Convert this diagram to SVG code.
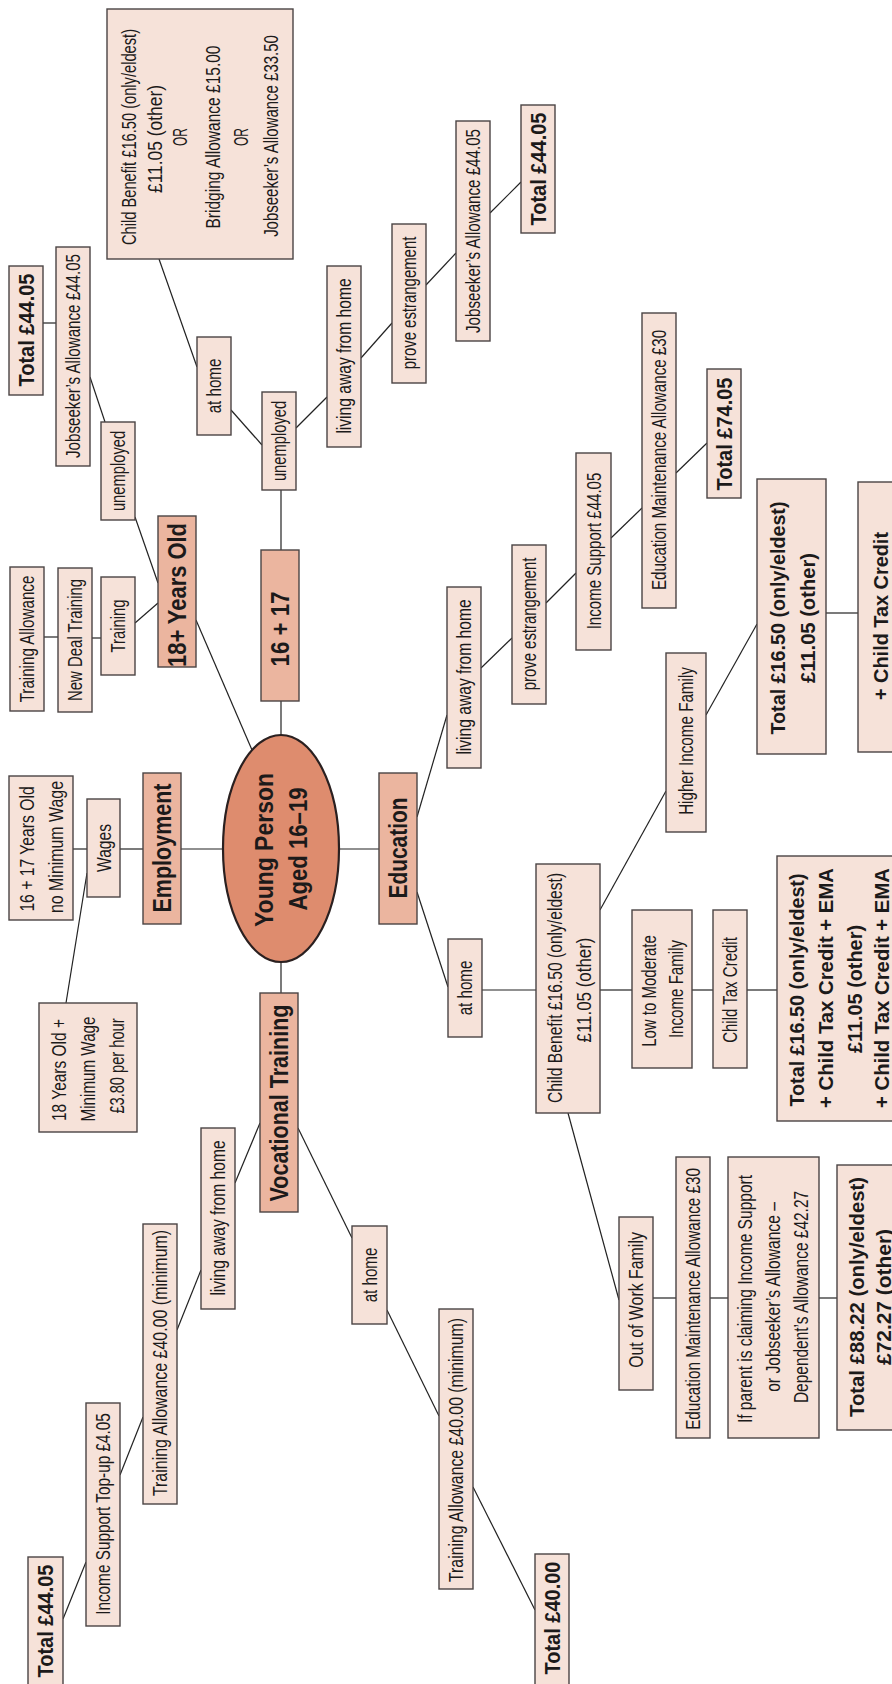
<svg xmlns="http://www.w3.org/2000/svg" width="892" height="1684" viewBox="0 0 892 1684">
<style>
.b{fill:#f6e2d9;stroke:#4a4444;stroke-width:1.4}
.c{fill:#ebb59f;stroke:#4a4444;stroke-width:1.4}
.e{fill:#de8c6e;stroke:#2a2020;stroke-width:2.2}
.ln{stroke:#222;stroke-width:1.2;fill:none}
text{font-family:"Liberation Sans",Arial,sans-serif;fill:#1c1a1a;text-anchor:middle}
.t{font-size:20px}
.tb{font-size:22px;font-weight:bold}
.tm{font-size:21px;font-weight:bold}
.tc{font-size:25px;font-weight:bold}
</style>
<rect width="892" height="1684" fill="#ffffff"/>
<g id="connectors">
<line class="ln" x1="159" y1="259" x2="197" y2="367"/>
<line class="ln" x1="231" y1="410" x2="262" y2="445"/>
<line class="ln" x1="296" y1="428" x2="327" y2="397"/>
<line class="ln" x1="361" y1="358" x2="392" y2="323"/>
<line class="ln" x1="426" y1="285" x2="456" y2="253"/>
<line class="ln" x1="490" y1="213" x2="521" y2="182"/>
<line class="ln" x1="43" y1="323" x2="56" y2="323"/>
<line class="ln" x1="90" y1="377" x2="105" y2="422"/>
<line class="ln" x1="135" y1="517" x2="158" y2="583"/>
<line class="ln" x1="135" y1="623" x2="158" y2="603"/>
<line class="ln" x1="92" y1="638" x2="101" y2="638"/>
<line class="ln" x1="44" y1="637" x2="58" y2="637"/>
<line class="ln" x1="281" y1="490" x2="281" y2="550"/>
<line class="ln" x1="281" y1="701" x2="281" y2="735"/>
<line class="ln" x1="196" y1="620" x2="252" y2="750"/>
<line class="ln" x1="73" y1="849" x2="87" y2="849"/>
<line class="ln" x1="120" y1="849" x2="143" y2="849"/>
<line class="ln" x1="181" y1="849" x2="223" y2="849"/>
<line class="ln" x1="87" y1="873" x2="66" y2="1003"/>
<line class="ln" x1="281" y1="962" x2="281" y2="993"/>
<line class="ln" x1="260" y1="1123" x2="235" y2="1183"/>
<line class="ln" x1="201" y1="1270" x2="177" y2="1330"/>
<line class="ln" x1="143" y1="1417" x2="120" y2="1475"/>
<line class="ln" x1="86" y1="1562" x2="63" y2="1619"/>
<line class="ln" x1="298" y1="1128" x2="352" y2="1238"/>
<line class="ln" x1="387" y1="1310" x2="439" y2="1416"/>
<line class="ln" x1="473" y1="1487" x2="535" y2="1610"/>
<line class="ln" x1="339" y1="849" x2="379" y2="849"/>
<line class="ln" x1="417" y1="817" x2="447" y2="715"/>
<line class="ln" x1="481" y1="668" x2="512" y2="638"/>
<line class="ln" x1="546" y1="603" x2="576" y2="573"/>
<line class="ln" x1="611" y1="538" x2="642" y2="508"/>
<line class="ln" x1="676" y1="473" x2="707" y2="443"/>
<line class="ln" x1="706" y1="715" x2="757" y2="624"/>
<line class="ln" x1="826" y1="613" x2="858" y2="613"/>
<line class="ln" x1="600" y1="910" x2="666" y2="791"/>
<line class="ln" x1="417" y1="892" x2="448" y2="987"/>
<line class="ln" x1="482" y1="990" x2="536" y2="990"/>
<line class="ln" x1="600" y1="990" x2="632" y2="990"/>
<line class="ln" x1="692" y1="990" x2="713" y2="990"/>
<line class="ln" x1="747" y1="990" x2="777" y2="990"/>
<line class="ln" x1="568" y1="1113" x2="619" y2="1300"/>
<line class="ln" x1="653" y1="1298" x2="676" y2="1298"/>
<line class="ln" x1="710" y1="1298" x2="728" y2="1298"/>
<line class="ln" x1="819" y1="1298" x2="837" y2="1298"/>
</g>

<g id="root">
<ellipse class="e" cx="281" cy="848.5" rx="58" ry="113.5"/>
<text class="tc" transform="translate(264,850) rotate(-90)" dy="0.35em" textLength="154" lengthAdjust="spacingAndGlyphs">Young Person</text>
<text class="tc" transform="translate(298,849) rotate(-90)" dy="0.35em" textLength="123" lengthAdjust="spacingAndGlyphs">Aged 16–19</text>
</g>

<g id="cat18plus"><rect class="c" x="158" y="516" width="38" height="151"/>
<text class="tc" transform="translate(177,595) rotate(-90)" dy="0.35em" textLength="144" lengthAdjust="spacingAndGlyphs">18+ Years Old</text></g>
<g id="cat1617"><rect class="c" x="261" y="550" width="38" height="151"/>
<text class="tc" transform="translate(280,629) rotate(-90)" dy="0.35em" textLength="75" lengthAdjust="spacingAndGlyphs">16 + 17</text></g>
<g id="employment"><rect class="c" x="143" y="773" width="38" height="151"/>
<text class="tc" transform="translate(162,848) rotate(-90)" dy="0.35em" textLength="129" lengthAdjust="spacingAndGlyphs">Employment</text></g>
<g id="education"><rect class="c" x="379" y="773" width="38" height="151"/>
<text class="tc" transform="translate(398,848) rotate(-90)" dy="0.35em" textLength="101" lengthAdjust="spacingAndGlyphs">Education</text></g>
<g id="vocational"><rect class="c" x="260" y="993" width="38" height="219"/>
<text class="tc" transform="translate(279,1103) rotate(-90)" dy="0.35em" textLength="197" lengthAdjust="spacingAndGlyphs">Vocational Training</text></g>

<g id="bigCB"><rect class="b" x="107" y="9" width="186" height="250"/>
<text class="t" transform="translate(129,137) rotate(-90) scale(0.75,1)" dy="0.35em" textLength="288" lengthAdjust="spacingAndGlyphs">Child Benefit £16.50 (only/eldest)</text>
<text class="t" transform="translate(155,139) rotate(-90) scale(0.75,1)" dy="0.35em" textLength="144" lengthAdjust="spacingAndGlyphs">£11.05 (other)</text>
<text class="t" transform="translate(180,137) rotate(-90) scale(0.75,1)" dy="0.35em" textLength="24" lengthAdjust="spacingAndGlyphs">OR</text>
<text class="t" transform="translate(213,137) rotate(-90) scale(0.75,1)" dy="0.35em" textLength="244" lengthAdjust="spacingAndGlyphs">Bridging Allowance £15.00</text>
<text class="t" transform="translate(241,137) rotate(-90) scale(0.75,1)" dy="0.35em" textLength="24" lengthAdjust="spacingAndGlyphs">OR</text>
<text class="t" transform="translate(271,136) rotate(-90) scale(0.75,1)" dy="0.35em" textLength="269" lengthAdjust="spacingAndGlyphs">Jobseeker’s Allowance £33.50</text></g>

<g id="totalTL"><rect class="b" x="9" y="266" width="34" height="129"/>
<text class="tb" transform="translate(26,330) rotate(-90)" dy="0.35em" textLength="113" lengthAdjust="spacingAndGlyphs">Total £44.05</text></g>
<g id="jsaTL"><rect class="b" x="56" y="247" width="34" height="219"/>
<text class="t" transform="translate(73,356) rotate(-90) scale(0.75,1)" dy="0.35em" textLength="272" lengthAdjust="spacingAndGlyphs">Jobseeker’s Allowance £44.05</text></g>
<g id="atHome1"><rect class="b" x="197" y="337" width="34" height="98"/>
<text class="t" transform="translate(214,386) rotate(-90) scale(0.75,1)" dy="0.35em" textLength="73" lengthAdjust="spacingAndGlyphs">at home</text></g>
<g id="unemp1617"><rect class="b" x="262" y="392" width="34" height="98"/>
<text class="t" transform="translate(279,441) rotate(-90) scale(0.75,1)" dy="0.35em" textLength="107" lengthAdjust="spacingAndGlyphs">unemployed</text></g>
<g id="living1617"><rect class="b" x="327" y="266" width="34" height="181"/>
<text class="t" transform="translate(344,356) rotate(-90) scale(0.75,1)" dy="0.35em" textLength="207" lengthAdjust="spacingAndGlyphs">living away from home</text></g>
<g id="prove1617"><rect class="b" x="392" y="224" width="34" height="159"/>
<text class="t" transform="translate(409,303) rotate(-90) scale(0.75,1)" dy="0.35em" textLength="177" lengthAdjust="spacingAndGlyphs">prove estrangement</text></g>
<g id="jsa1617"><rect class="b" x="456" y="121" width="34" height="220"/>
<text class="t" transform="translate(473,231) rotate(-90) scale(0.75,1)" dy="0.35em" textLength="272" lengthAdjust="spacingAndGlyphs">Jobseeker’s Allowance £44.05</text></g>
<g id="total1617"><rect class="b" x="521" y="105" width="34" height="128"/>
<text class="tb" transform="translate(538,169) rotate(-90)" dy="0.35em" textLength="113" lengthAdjust="spacingAndGlyphs">Total £44.05</text></g>

<g id="unemp18"><rect class="b" x="101" y="422" width="34" height="98"/>
<text class="t" transform="translate(118,471) rotate(-90) scale(0.75,1)" dy="0.35em" textLength="107" lengthAdjust="spacingAndGlyphs">unemployed</text></g>
<g id="training"><rect class="b" x="101" y="577" width="34" height="98"/>
<text class="t" transform="translate(118,626) rotate(-90) scale(0.75,1)" dy="0.35em" textLength="71" lengthAdjust="spacingAndGlyphs">Training</text></g>
<g id="newDeal"><rect class="b" x="58" y="568" width="34" height="144"/>
<text class="t" transform="translate(75,640) rotate(-90) scale(0.75,1)" dy="0.35em" textLength="163" lengthAdjust="spacingAndGlyphs">New Deal Training</text></g>
<g id="trainAllow"><rect class="b" x="10" y="567" width="34" height="144"/>
<text class="t" transform="translate(27,639) rotate(-90) scale(0.75,1)" dy="0.35em" textLength="169" lengthAdjust="spacingAndGlyphs">Training Allowance</text></g>

<g id="wages"><rect class="b" x="87" y="799" width="33" height="98"/>
<text class="t" transform="translate(103.5,848) rotate(-90) scale(0.75,1)" dy="0.35em" textLength="64" lengthAdjust="spacingAndGlyphs">Wages</text></g>
<g id="yo1617"><rect class="b" x="9" y="776" width="64" height="144"/>
<text class="t" transform="translate(27,849) rotate(-90) scale(0.75,1)" dy="0.35em" textLength="167" lengthAdjust="spacingAndGlyphs">16 + 17 Years Old</text>
<text class="t" transform="translate(56,847) rotate(-90) scale(0.75,1)" dy="0.35em" textLength="176" lengthAdjust="spacingAndGlyphs">no Minimum Wage</text></g>
<g id="yo18"><rect class="b" x="39" y="1003" width="98" height="129"/>
<text class="t" transform="translate(59,1070) rotate(-90) scale(0.75,1)" dy="0.35em" textLength="136" lengthAdjust="spacingAndGlyphs">18 Years Old +</text>
<text class="t" transform="translate(88,1069) rotate(-90) scale(0.75,1)" dy="0.35em" textLength="140" lengthAdjust="spacingAndGlyphs">Minimum Wage</text>
<text class="t" transform="translate(117,1066) rotate(-90) scale(0.75,1)" dy="0.35em" textLength="127" lengthAdjust="spacingAndGlyphs">£3.80 per hour</text></g>

<g id="livingVT"><rect class="b" x="201" y="1128" width="34" height="181"/>
<text class="t" transform="translate(218,1218) rotate(-90) scale(0.75,1)" dy="0.35em" textLength="207" lengthAdjust="spacingAndGlyphs">living away from home</text></g>
<g id="taUpper"><rect class="b" x="143" y="1224" width="34" height="280"/>
<text class="t" transform="translate(160,1363) rotate(-90) scale(0.75,1)" dy="0.35em" textLength="355" lengthAdjust="spacingAndGlyphs">Training Allowance £40.00 (minimum)</text></g>
<g id="isTopUp"><rect class="b" x="86" y="1403" width="34" height="223"/>
<text class="t" transform="translate(103,1514) rotate(-90) scale(0.75,1)" dy="0.35em" textLength="269" lengthAdjust="spacingAndGlyphs">Income Support Top-up £4.05</text></g>
<g id="totalBL"><rect class="b" x="28" y="1557" width="35" height="135"/>
<text class="tb" transform="translate(45.5,1621) rotate(-90)" dy="0.35em" textLength="113" lengthAdjust="spacingAndGlyphs">Total £44.05</text></g>
<g id="atHomeVT"><rect class="b" x="352" y="1226" width="35" height="98"/>
<text class="t" transform="translate(369.5,1275) rotate(-90) scale(0.75,1)" dy="0.35em" textLength="73" lengthAdjust="spacingAndGlyphs">at home</text></g>
<g id="taLower"><rect class="b" x="439" y="1309" width="34" height="280"/>
<text class="t" transform="translate(456,1450) rotate(-90) scale(0.75,1)" dy="0.35em" textLength="352" lengthAdjust="spacingAndGlyphs">Training Allowance £40.00 (minimum)</text></g>
<g id="total40"><rect class="b" x="535" y="1554" width="34" height="138"/>
<text class="tb" transform="translate(552,1618) rotate(-90)" dy="0.35em" textLength="113" lengthAdjust="spacingAndGlyphs">Total £40.00</text></g>

<g id="livingEdu"><rect class="b" x="447" y="587" width="34" height="181"/>
<text class="t" transform="translate(464,677) rotate(-90) scale(0.75,1)" dy="0.35em" textLength="207" lengthAdjust="spacingAndGlyphs">living away from home</text></g>
<g id="proveEdu"><rect class="b" x="512" y="545" width="34" height="159"/>
<text class="t" transform="translate(529,624) rotate(-90) scale(0.75,1)" dy="0.35em" textLength="177" lengthAdjust="spacingAndGlyphs">prove estrangement</text></g>
<g id="isEdu"><rect class="b" x="576" y="453" width="35" height="197"/>
<text class="t" transform="translate(593.5,551) rotate(-90) scale(0.75,1)" dy="0.35em" textLength="209" lengthAdjust="spacingAndGlyphs">Income Support £44.05</text></g>
<g id="emaTop"><rect class="b" x="642" y="313" width="34" height="295"/>
<text class="t" transform="translate(659,460) rotate(-90) scale(0.75,1)" dy="0.35em" textLength="347" lengthAdjust="spacingAndGlyphs">Education Maintenance Allowance £30</text></g>
<g id="total74"><rect class="b" x="707" y="369" width="34" height="129"/>
<text class="tb" transform="translate(724,434) rotate(-90)" dy="0.35em" textLength="113" lengthAdjust="spacingAndGlyphs">Total £74.05</text></g>
<g id="higher"><rect class="b" x="666" y="653" width="40" height="179"/>
<text class="t" transform="translate(686,741) rotate(-90) scale(0.75,1)" dy="0.35em" textLength="197" lengthAdjust="spacingAndGlyphs">Higher Income Family</text></g>
<g id="total1650"><rect class="b" x="757" y="479" width="69" height="275"/>
<text class="tm" transform="translate(778,618) rotate(-90)" dy="0.35em" textLength="233" lengthAdjust="spacingAndGlyphs">Total £16.50 (only/eldest)</text>
<text class="tm" transform="translate(808,618) rotate(-90)" dy="0.35em" textLength="130" lengthAdjust="spacingAndGlyphs">£11.05 (other)</text></g>
<g id="plusCTC"><rect class="b" x="858" y="482" width="50" height="270"/>
<text class="tm" transform="translate(881,616) rotate(-90)" dy="0.35em" textLength="168" lengthAdjust="spacingAndGlyphs">+ Child Tax Credit</text></g>

<g id="atHomeEdu"><rect class="b" x="448" y="939" width="34" height="98"/>
<text class="t" transform="translate(465,988) rotate(-90) scale(0.75,1)" dy="0.35em" textLength="73" lengthAdjust="spacingAndGlyphs">at home</text></g>
<g id="cbEdu"><rect class="b" x="536" y="864" width="64" height="249"/>
<text class="t" transform="translate(555,988) rotate(-90) scale(0.75,1)" dy="0.35em" textLength="307" lengthAdjust="spacingAndGlyphs">Child Benefit £16.50 (only/eldest)</text>
<text class="t" transform="translate(584,990) rotate(-90) scale(0.75,1)" dy="0.35em" textLength="140" lengthAdjust="spacingAndGlyphs">£11.05 (other)</text></g>
<g id="lowMod"><rect class="b" x="632" y="910" width="60" height="158"/>
<text class="t" transform="translate(649,991) rotate(-90) scale(0.75,1)" dy="0.35em" textLength="149" lengthAdjust="spacingAndGlyphs">Low to Moderate</text>
<text class="t" transform="translate(676,989) rotate(-90) scale(0.75,1)" dy="0.35em" textLength="131" lengthAdjust="spacingAndGlyphs">Income Family</text></g>
<g id="ctc"><rect class="b" x="713" y="910" width="34" height="158"/>
<text class="t" transform="translate(730,990) rotate(-90) scale(0.75,1)" dy="0.35em" textLength="141" lengthAdjust="spacingAndGlyphs">Child Tax Credit</text></g>
<g id="totalBig"><rect class="b" x="777" y="856" width="130" height="265"/>
<text class="tm" transform="translate(797,990) rotate(-90)" dy="0.35em" textLength="233" lengthAdjust="spacingAndGlyphs">Total £16.50 (only/eldest)</text>
<text class="tm" transform="translate(826,988) rotate(-90)" dy="0.35em" textLength="240" lengthAdjust="spacingAndGlyphs">+ Child Tax Credit + EMA</text>
<text class="tm" transform="translate(855,989) rotate(-90)" dy="0.35em" textLength="128" lengthAdjust="spacingAndGlyphs">£11.05 (other)</text>
<text class="tm" transform="translate(882,988) rotate(-90)" dy="0.35em" textLength="240" lengthAdjust="spacingAndGlyphs">+ Child Tax Credit + EMA</text></g>

<g id="outOfWork"><rect class="b" x="619" y="1217" width="34" height="173"/>
<text class="t" transform="translate(636,1300) rotate(-90) scale(0.75,1)" dy="0.35em" textLength="181" lengthAdjust="spacingAndGlyphs">Out of Work Family</text></g>
<g id="emaLow"><rect class="b" x="676" y="1157" width="34" height="281"/>
<text class="t" transform="translate(693,1299) rotate(-90) scale(0.75,1)" dy="0.35em" textLength="349" lengthAdjust="spacingAndGlyphs">Education Maintenance Allowance £30</text></g>
<g id="ifParent"><rect class="b" x="728" y="1157" width="91" height="281"/>
<text class="t" transform="translate(745,1299) rotate(-90) scale(0.75,1)" dy="0.35em" textLength="331" lengthAdjust="spacingAndGlyphs">If parent is claiming Income Support</text>
<text class="t" transform="translate(773,1297) rotate(-90) scale(0.75,1)" dy="0.35em" textLength="253" lengthAdjust="spacingAndGlyphs">or Jobseeker’s Allowance –</text>
<text class="t" transform="translate(801,1297) rotate(-90) scale(0.75,1)" dy="0.35em" textLength="283" lengthAdjust="spacingAndGlyphs">Dependent’s Allowance £42.27</text></g>
<g id="total8822"><rect class="b" x="837" y="1165" width="70" height="265"/>
<text class="tm" transform="translate(857,1297) rotate(-90)" dy="0.35em" textLength="240" lengthAdjust="spacingAndGlyphs">Total £88.22 (only/eldest)</text>
<text class="tm" transform="translate(884,1297) rotate(-90)" dy="0.35em" textLength="136" lengthAdjust="spacingAndGlyphs">£72.27 (other)</text></g>
</svg>
